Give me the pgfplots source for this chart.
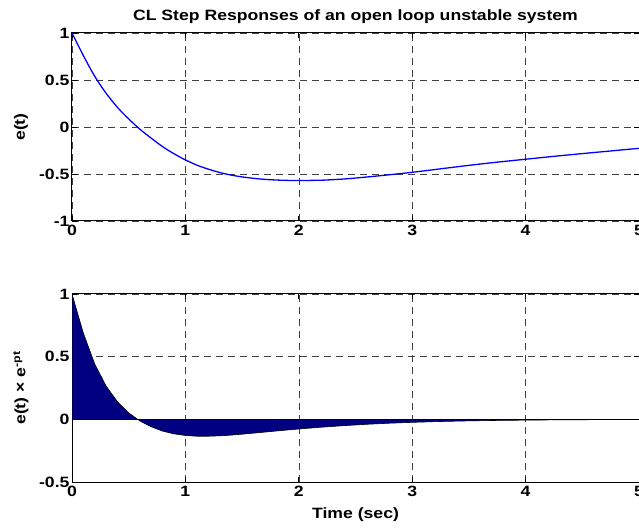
\documentclass[border=0pt]{standalone}
\usepackage{fontspec}
\setmainfont{Liberation Sans}[FakeStretch=1.18]
\usepackage{pgfplots}
\pgfplotsset{compat=1.18}
\definecolor{mblue}{rgb}{0,0,1}
\definecolor{mnavy}{rgb}{0,0,0.5}
\pgfplotsset{
  mstyle/.style={
    scale only axis, width=567bp, height=188bp,
    xmin=0, xmax=5, xtick={0,1,2,3,4,5},
    grid=major,
    major grid style={dash pattern=on 7bp off 5bp, black!75, line width=0.6bp},
    tick align=inside, major tick length=5bp,
    tick style={black, line width=0.8bp},
    axis line style={black, line width=1bp},
    tick label style={font=\bfseries\fontsize{15}{17}\selectfont},
    label style={font=\bfseries\fontsize{15}{17}\selectfont},
    title style={font=\bfseries\fontsize{15}{17}\selectfont, at={(axis description cs:0.5,1)}, anchor=center, yshift=10bp},
    /pgf/number format/assume math mode=true,
    ylabel style={at={(axis description cs:-0.09,0.5)}, anchor=center},
    xticklabel style={yshift=-1bp},
    yticklabel style={xshift=1bp},
  }
}
\begin{document}
\begin{tikzpicture}
\begin{axis}[mstyle, at={(0,261bp)}, anchor=south west,
  ymin=-1, ymax=1, ytick={-1,-0.5,0,0.5,1},
  title={CL Step Responses of an open loop unstable system},
  ylabel={e(t)}]
\addplot[mblue, line width=1.3bp, smooth] coordinates {
(0,1.000) (0.1,0.760) (0.2,0.540) (0.3,0.360) (0.4,0.210) (0.5,0.085)
(0.6,-0.025) (0.7,-0.120) (0.8,-0.210) (0.9,-0.285) (1.0,-0.350)
(1.1,-0.405) (1.2,-0.448) (1.3,-0.483) (1.4,-0.511) (1.5,-0.531)
(1.6,-0.546) (1.7,-0.557) (1.8,-0.564) (1.9,-0.568) (2.0,-0.569)
(2.2,-0.566) (2.4,-0.553) (2.6,-0.532) (2.8,-0.508) (3.0,-0.482)
(3.25,-0.445) (3.5,-0.408) (3.75,-0.374) (4.0,-0.343) (4.25,-0.312)
(4.5,-0.283) (4.75,-0.255) (5.0,-0.227)
};
\end{axis}
\begin{axis}[mstyle, at={(0,0)}, anchor=south west,
  ymin=-0.5, ymax=1, ytick={-0.5,0,0.5,1},
  xlabel={Time (sec)},
  xlabel style={at={(axis description cs:0.5,0)}, anchor=center, yshift=-33bp},
  ylabel={e(t) × e\textsuperscript{-pt}}]
\addplot[fill=mnavy, draw=black, line width=0.6bp] coordinates {
(0,0) (0,1.000) (0.1,0.6877) (0.2,0.4421) (0.3,0.2667) (0.4,0.1408) (0.5,0.0516)
(0.6,-0.0137) (0.7,-0.0596) (0.8,-0.0944) (0.9,-0.1159) (1.0,-0.1288)
(1.1,-0.1348) (1.2,-0.1349) (1.3,-0.1316) (1.4,-0.1260) (1.5,-0.1185)
(1.6,-0.1102) (1.7,-0.1018) (1.8,-0.0932) (1.9,-0.0850) (2.0,-0.0770)
(2.2,-0.0627) (2.4,-0.0502) (2.6,-0.0395) (2.8,-0.0309) (3.0,-0.0240)
(3.25,-0.0173) (3.5,-0.0123) (3.75,-0.0088) (4.0,-0.0063) (4.25,-0.0045)
(4.5,-0.0031) (4.75,-0.0022) (5.0,-0.0015) (5,0) (0,0)
};
\addplot[black, line width=1bp] coordinates {(0,0) (5,0)};
\end{axis}
\pgfresetboundingbox
\path[use as bounding box] (-72bp,-48bp) rectangle (567bp,482bp);
\end{tikzpicture}
\end{document}
